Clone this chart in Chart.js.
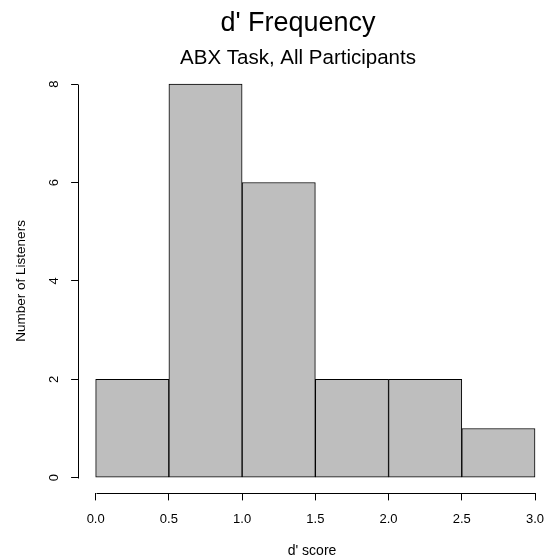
<!DOCTYPE html>
<html>
<head>
<meta charset="utf-8">
<script src="https://cdn.jsdelivr.net/npm/chart.js@4/dist/chart.umd.min.js"></script>
<style>
  html, body { margin: 0; padding: 0; background: #fff; }
  #wrap { width: 546px; height: 560px; }
</style>
</head>
<body>
<div id="wrap"><canvas id="hist"></canvas></div>
<script>
// histogram data (d' scores, bins of 0.5)
var binEdges = [0, 0.5, 1.0, 1.5, 2.0, 2.5, 3.0];
var counts = [2, 8, 6, 2, 2, 1];
var xTicks = [0, 0.5, 1.0, 1.5, 2.0, 2.5, 3.0];
var yTicks = [0, 2, 4, 6, 8];

var mainTitle = "d' Frequency";
var subTitle = "ABX Task, All Participants";
var xTitle = "d' score";
var yTitle = "Number of Listeners";

const FONT = "Liberation Sans, Arial, Helvetica, sans-serif";

var puntos = [];
for (var i = 0; i < counts.length; i++) {
    puntos.push({x: (binEdges[i] + binEdges[i + 1]) / 2, y: counts[i]});
}

// R-style axes: lines only from first to last tick, y labels parallel to axis
var ejesR = {
    id: 'ejesR',
    afterDraw: function(chart) {
        var ctx = chart.ctx;
        var area = chart.chartArea;
        var sx = chart.scales.x, sy = chart.scales.y;
        ctx.save();
        ctx.strokeStyle = '#000';
        ctx.lineWidth = 1;
        var yb = Math.round(area.bottom) + 0.5;
        ctx.beginPath();
        ctx.moveTo(Math.round(sx.getPixelForValue(xTicks[0])) + 0.5, yb);
        ctx.lineTo(Math.round(sx.getPixelForValue(xTicks[xTicks.length - 1])) + 0.5, yb);
        ctx.stroke();
        var xl = Math.round(area.left) + 0.5;
        ctx.beginPath();
        ctx.moveTo(xl, Math.round(sy.getPixelForValue(yTicks[0])) + 0.5);
        ctx.lineTo(xl, Math.round(sy.getPixelForValue(yTicks[yTicks.length - 1])) + 0.5);
        ctx.stroke();

        ctx.fillStyle = '#000';
        ctx.textAlign = 'center';
        ctx.textBaseline = 'middle';
        ctx.font = '13px ' + FONT;
        yTicks.forEach(function(v) {
            ctx.save();
            ctx.translate(54, sy.getPixelForValue(v));
            ctx.rotate(-Math.PI / 2);
            ctx.fillText(String(v), 0, 0);
            ctx.restore();
        });

        // titles
        ctx.textBaseline = 'alphabetic';
        ctx.font = '27px ' + FONT;
        ctx.fillText(mainTitle, 298, 31);
        ctx.font = '20.5px ' + FONT;
        ctx.fillText(subTitle, 298, 64);
        ctx.restore();
    }
};

var histograma = new Chart(document.getElementById("hist").getContext("2d"), {
    type: 'bar',
    data: {
        datasets: [{
            data: puntos,
            backgroundColor: '#bebebe',
            borderColor: '#000',
            borderWidth: 1,
            borderSkipped: false,
            barPercentage: 1,
            categoryPercentage: 1
        }]
    },
    options: {
        responsive: true,
        maintainAspectRatio: false,
        animation: false,
        layout: {padding: {top: 68.4, left: 0, right: 0, bottom: 0}},
        plugins: {
            legend: {display: false},
            tooltip: {enabled: false},
            title: {display: false}
        },
        scales: {
            x: {
                type: 'linear',
                offset: false,
                min: -0.12,
                max: 3.075,
                afterBuildTicks: function(s) { s.ticks = xTicks.map(function(v) { return {value: v}; }); },
                afterFit: function(s) { s.height = 66.6; s.paddingLeft = 0; s.paddingRight = 0; },
                border: {display: false},
                grid: {offset: false, drawOnChartArea: false, drawTicks: true, tickLength: 7, color: '#000'},
                ticks: {
                    color: '#000',
                    font: {family: FONT, size: 13},
                    padding: 11,
                    maxRotation: 0,
                    callback: function(v) { return v.toFixed(1); }
                },
                title: {
                    display: true,
                    text: xTitle,
                    color: '#000',
                    font: {family: FONT, size: 14},
                    padding: {top: 0, bottom: 0}
                }
            },
            y: {
                type: 'linear',
                min: -0.32,
                max: 8.32,
                afterBuildTicks: function(s) { s.ticks = yTicks.map(function(v) { return {value: v}; }); },
                afterFit: function(s) { s.width = 78.1; s.paddingTop = 0; s.paddingBottom = 0; },
                border: {display: false},
                grid: {drawOnChartArea: false, drawTicks: true, tickLength: 7, color: '#000'},
                ticks: {display: false},
                title: {
                    display: true,
                    text: yTitle,
                    color: '#000',
                    font: {family: FONT, size: 13.5},
                    padding: {top: 13, bottom: 0}
                }
            }
        }
    },
    plugins: [ejesR]
});
</script>
</body>
</html>
